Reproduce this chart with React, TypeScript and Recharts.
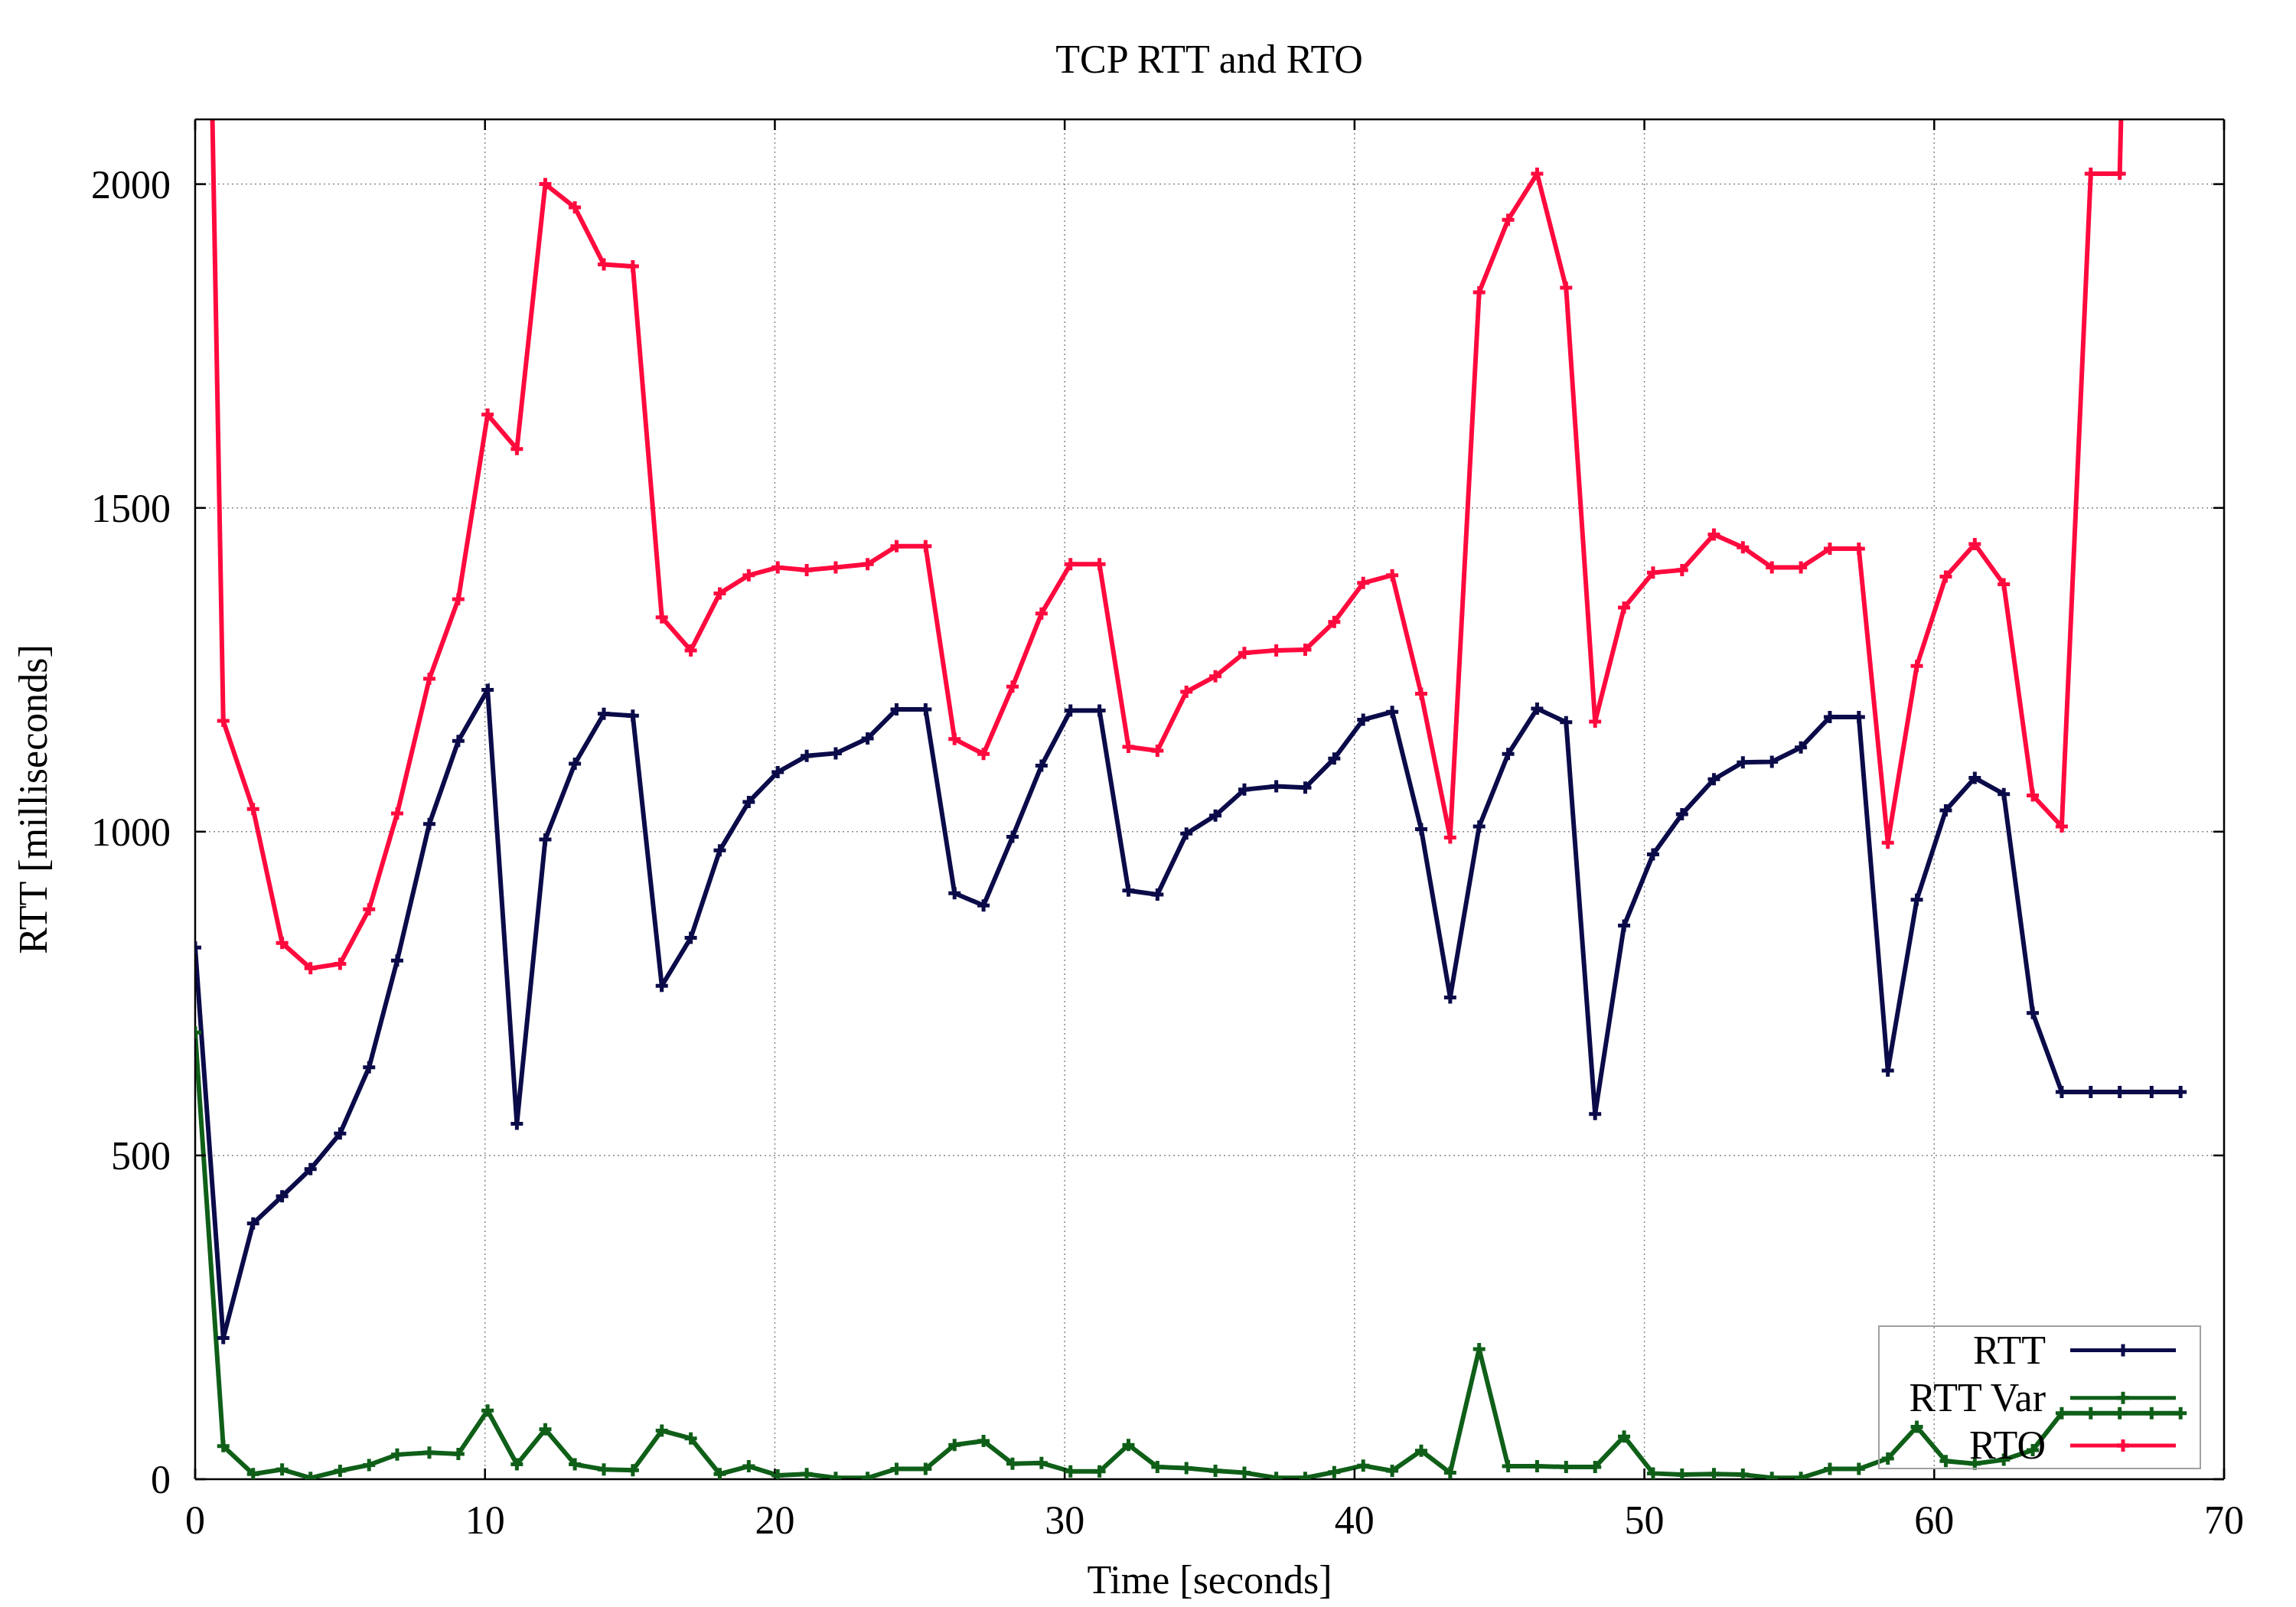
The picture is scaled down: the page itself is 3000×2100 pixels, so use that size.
import React from 'react';
import { LineChart, Line, XAxis, YAxis, CartesianGrid } from 'recharts';

// sample times (seconds) and the three series (milliseconds)
const times = [
  0, 0.97, 2.0, 3.0, 3.98, 5.0, 6.0, 6.97, 8.08, 9.08, 10.09, 11.1, 12.08, 13.1, 14.1, 15.1,
  16.1, 17.1, 18.1, 19.1, 20.1, 21.1, 22.1, 23.2, 24.2, 25.2, 26.2, 27.2, 28.2, 29.2, 30.2,
  31.2, 32.2, 33.2, 34.2, 35.2, 36.2, 37.3, 38.3, 39.3, 40.3, 41.3, 42.3, 43.3, 44.3, 45.3,
  46.3, 47.3, 48.3, 49.3, 50.3, 51.3, 52.4, 53.4, 54.4, 55.4, 56.4, 57.4, 58.4, 59.4, 60.4,
  61.4, 62.4, 63.4, 64.4, 65.4, 66.4, 67.5, 68.5,
];

const rtt = [
  821, 218, 395, 437, 479, 534, 636, 801, 1012, 1140, 1219, 549, 988, 1105, 1182, 1179,
  762, 836, 971, 1046, 1092, 1117, 1121, 1144, 1189, 1189, 905, 886, 992, 1102, 1187,
  1187, 909, 903, 997, 1025, 1065, 1070, 1068, 1113, 1173, 1185, 1004, 744, 1008, 1120,
  1190, 1169, 564, 855, 965, 1027, 1081, 1107, 1108, 1130, 1177, 1177, 631, 895, 1033,
  1083, 1058, 720, 598, 598, 598, 598, 598,
];

const rttVar = [
  690, 51, 8, 15, 2, 13, 22, 38, 41, 39, 106, 23, 77, 23, 15, 14,
  75, 63, 8, 20, 6, 8, 2, 2, 16, 16, 53, 59, 24, 25, 12,
  12, 53, 19, 17, 13, 10, 2, 2, 11, 21, 13, 44, 10, 201, 20,
  20, 19, 19, 66, 9, 7, 8, 7, 2, 2, 16, 16, 32, 81, 28,
  24, 30, 45, 102, 102, 102, 102, 102,
];

const rto = [
  3580, 1171, 1035, 828, 789, 796, 880, 1028, 1236, 1359, 1644, 1591, 2000, 1964, 1876, 1873,
  1331, 1280, 1368, 1396, 1408, 1404, 1408, 1413, 1441, 1441, 1143, 1120, 1224, 1337, 1413,
  1413, 1131, 1125, 1216, 1240, 1276, 1280, 1281, 1324, 1384, 1396, 1213, 991, 1833, 1945,
  2016, 1840, 1170, 1346, 1400, 1404, 1459, 1439, 1408, 1408, 1437, 1437, 983, 1256, 1394,
  1444, 1382, 1056, 1008, 2016, 2016, 4032, 4032,
];

const xTicks = [0, 10, 20, 30, 40, 50, 60, 70];
const yTicks = [0, 500, 1000, 1500, 2000];

const series = [
  { key: 'rtt', name: 'RTT', color: '#0b0b4a' },
  { key: 'rttVar', name: 'RTT Var', color: '#0f5f18' },
  { key: 'rto', name: 'RTO', color: '#ff0a3e' },
];

const data = times.map((t, i) => ({ t, rtt: rtt[i], rttVar: rttVar[i], rto: rto[i] }));

const FONT = '"Liberation Serif", "Times New Roman", serif';
const FS = 52;

// gnuplot style "+" point
const PlusDot = (props: any) => {
  const { cx, cy, stroke } = props;
  if (cx == null || cy == null) return null;
  const s = 8;
  return (
    <path
      d={`M${cx - s},${cy}H${cx + s}M${cx},${cy - s}V${cy + s}`}
      stroke={stroke}
      strokeWidth={5}
      fill="none"
    />
  );
};

const EmptyTick = () => <g />;

const XLabel = (props: any) => {
  const { viewBox } = props;
  return (
    <text x={viewBox.x + viewBox.width / 2} y={viewBox.y + 149} textAnchor="middle"
      fontSize={FS} fontFamily={FONT} fill="#000">Time [seconds]</text>
  );
};

const YLabel = (props: any) => {
  const { viewBox } = props;
  const x = viewBox.x + 36;
  const y = viewBox.y + viewBox.height / 2;
  return (
    <text x={x} y={y} textAnchor="middle" transform={`rotate(-90, ${x}, ${y})`}
      fontSize={FS} fontFamily={FONT} fill="#000">RTT [milliseconds]</text>
  );
};

const axisLine = { stroke: '#000', strokeWidth: 2.5 };
const tickStyle = { fill: '#000', fontSize: FS, fontFamily: FONT };

export default function App() {
  return (
    <div style={{ position: 'absolute', left: 0, top: 0, width: 3000, height: 2100, background: '#fff' }}>
      <LineChart width={3000} height={2100} data={data} margin={{ top: 136, right: 74, bottom: 17, left: 25 }}>
        <CartesianGrid stroke="#888" strokeDasharray="2 4" strokeWidth={1.5} />
        <XAxis
          type="number" dataKey="t" domain={[0, 70]} ticks={xTicks} interval={0} allowDataOverflow
          height={150} tickSize={-14} tickMargin={48}
          axisLine={axisLine} tickLine={axisLine} tick={tickStyle}
          label={XLabel}
        />
        <XAxis
          xAxisId="top" orientation="top" type="number" dataKey="t" domain={[0, 70]} ticks={xTicks}
          interval={0} allowDataOverflow height={20} tickSize={-14}
          axisLine={axisLine} tickLine={axisLine} tick={EmptyTick}
        />
        <YAxis
          type="number" domain={[0, 2100]} ticks={yTicks} interval={0} allowDataOverflow
          width={230} tickSize={-14} tickMargin={46}
          axisLine={axisLine} tickLine={axisLine} tick={tickStyle}
          label={YLabel}
        />
        <YAxis
          yAxisId="right" orientation="right" type="number" domain={[0, 2100]} ticks={yTicks}
          interval={0} allowDataOverflow width={20} tickSize={-14}
          axisLine={axisLine} tickLine={axisLine} tick={EmptyTick}
        />
        {series.map((s) => (
          <Line
            key={s.key}
            type="linear"
            dataKey={s.key}
            name={s.name}
            stroke={s.color}
            strokeWidth={6}
            dot={<PlusDot />}
            activeDot={false}
            isAnimationActive={false}
          />
        ))}
      </LineChart>

      {/* title and key, drawn like gnuplot's */}
      <svg width={3000} height={2100} style={{ position: 'absolute', left: 0, top: 0, pointerEvents: 'none' }}>
        <text x={1580} y={95} textAnchor="middle" fontSize={FS} fontFamily={FONT} fill="#000">
          TCP RTT and RTO
        </text>
        <rect x={2455} y={1733} width={420} height={186} fill="none" stroke="#a0a0a0" strokeWidth={2} />
        {series.map((s, i) => {
          const y = 1764.5 + i * 62.3;
          return (
            <g key={s.key}>
              <text x={2673} y={y + 17} textAnchor="end" fontSize={FS} fontFamily={FONT} fill="#000">
                {s.name}
              </text>
              <line x1={2705} x2={2843} y1={y} y2={y} stroke={s.color} strokeWidth={5} />
              <PlusDot cx={2774} cy={y} stroke={s.color} />
            </g>
          );
        })}
      </svg>
    </div>
  );
}
